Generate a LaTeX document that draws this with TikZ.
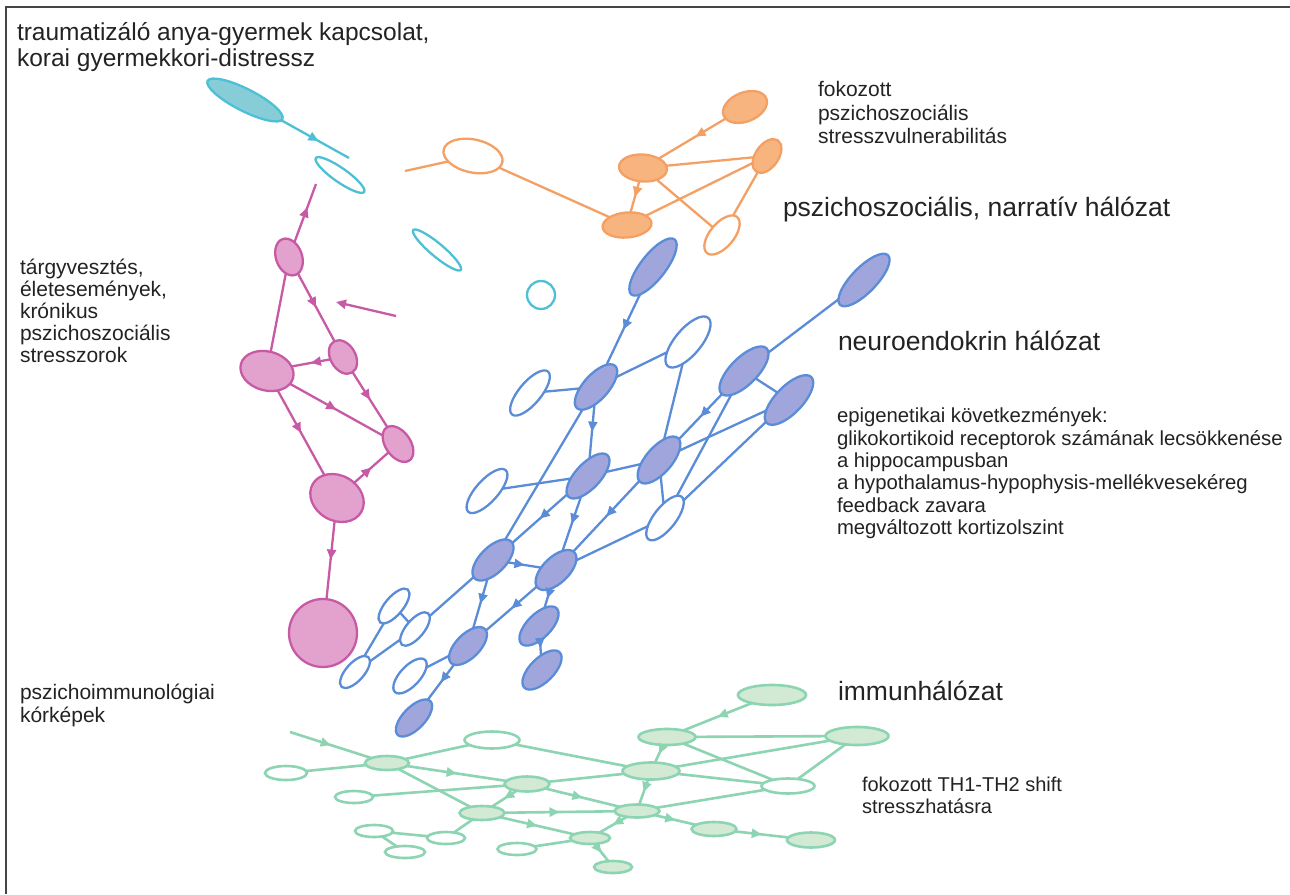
\documentclass[tikz,border=0pt]{standalone}
\usepackage{fontspec}
\setmainfont{Liberation Sans}
\usetikzlibrary{shapes.geometric,arrows.meta,decorations.markings}
\definecolor{cyL}{RGB}{78,192,214}
\definecolor{cyFi}{RGB}{135,205,216}
\definecolor{orL}{RGB}{244,160,100}
\definecolor{orFi}{RGB}{247,180,126}
\definecolor{pkL}{RGB}{200,90,165}
\definecolor{pkFi}{RGB}{226,162,205}
\definecolor{buL}{RGB}{90,140,215}
\definecolor{buFi}{RGB}{160,166,220}
\definecolor{grL}{RGB}{140,212,178}
\definecolor{grFi}{RGB}{210,234,212}
\definecolor{txtC}{RGB}{35,35,35}
\definecolor{frameC}{RGB}{70,70,70}
\begin{document}
\begin{tikzpicture}[x=1pt,y=-1pt,
 E/.style n args={3}{ellipse, inner sep=0pt, outer sep=0pt, minimum width=#1pt, minimum height=#2pt, rotate=#3},
 cyO/.style={draw=cyL, line width=2.3pt, fill=white},
 cyF/.style={draw=cyL, line width=2.3pt, fill=cyFi},
 cyLn/.style={draw=cyL, line width=2.3pt},
 orO/.style={draw=orL, line width=2.3pt, fill=white},
 orF/.style={draw=orL, line width=2.3pt, fill=orFi},
 orLn/.style={draw=orL, line width=2.3pt},
 pkF/.style={draw=pkL, line width=2.3pt, fill=pkFi},
 pkLn/.style={draw=pkL, line width=2.3pt},
 buO/.style={draw=buL, line width=2.3pt, fill=white},
 buF/.style={draw=buL, line width=2.3pt, fill=buFi},
 buLn/.style={draw=buL, line width=2.3pt},
 grO/.style={draw=grL, line width=2.6pt, fill=white},
 grF/.style={draw=grL, line width=2.6pt, fill=grFi},
 grLn/.style={draw=grL, line width=2.6pt},
 midarr/.style={postaction={decorate}, decoration={markings, mark=at position #1 with {\arrow{Triangle[length=10pt,width=9pt]}}}},
 midarr/.default=0.5,
 txt/.style={text=txtC, anchor=base west, inner sep=0pt, outer sep=0pt},
 bigT/.style={txt, font=\fontsize{26.5}{30}\selectfont},
 topT/.style={txt, font=\fontsize{24.5}{28}\selectfont},
 smlT/.style={txt, font=\fontsize{21}{24}\selectfont},
 epiT/.style={txt, font=\fontsize{20.3}{23}\selectfont},
]
\useasboundingbox (0,0) rectangle (1290,894);
\fill[white] (0,0) rectangle (1290,894);
\draw[frameC, line width=2pt] (6,894) -- (6,7) -- (1290,7);

% ---------- cyan ----------
\node[cyF, E={84}{22}{-27}] (c1) at (245,100) {};
\coordinate (c1e) at (349,158);
\node[cyO, E={59}{14}{-35}] (c2) at (340,175) {};
\node[cyO, E={62}{13}{-40}] (c3) at (437,250) {};
\node[cyO, circle, inner sep=0pt, minimum size=28pt] (c4) at (541,295) {};
\draw[cyLn, midarr=0.55] (c1) -- (c1e);

% ---------- orange ----------
\node[orO, E={60}{33}{-12}] (o1) at (473,156) {};
\coordinate (o1e) at (405,171);
\node[orF, E={46}{29}{22}] (o2) at (745,107) {};
\node[orF, E={48}{27}{-4}] (o3) at (643,168) {};
\node[orF, E={38}{23}{55}] (o4) at (767,156) {};
\node[orF, E={49}{25}{5}] (o5) at (627,225) {};
\node[orO, E={47}{24}{50}] (o6) at (722,235) {};
\draw[orLn] (o1e) -- (o1);
\draw[orLn] (o1) -- (o5);
\draw[orLn, midarr] (o3) -- (o5);
\draw[orLn, midarr=0.45] (o2) -- (o3);
\draw[orLn] (o3) -- (o4);
\draw[orLn] (o5) -- (o4);
\draw[orLn] (o3) -- (o6);
\draw[orLn] (o4) -- (o6);

% ---------- pink ----------
\node[pkF, E={38}{26}{-70}] (p1) at (289,257) {};
\coordinate (p1e) at (316,184);
\node[pkF, E={36}{25}{-60}] (p2) at (343,357) {};
\node[pkF, E={54}{39}{-15}] (p3) at (267,371) {};
\node[pkF, E={40}{25}{-55}] (p4) at (398,444) {};
\node[pkF, E={56}{45}{-30}] (p5) at (337,498) {};
\node[pkF, circle, inner sep=0pt, minimum size=68pt] (p6) at (323,633) {};
\coordinate (pa1) at (396,316);
\coordinate (pa2) at (336,302);
\draw[pkLn, midarr=0.6] (p1) -- (p1e);
\draw[pkLn, -{Triangle[length=10pt,width=9pt]}] (pa1) -- (pa2);
\draw[pkLn] (p1) -- (p3);
\draw[pkLn, midarr] (p1) -- (p2);
\draw[pkLn, midarr] (p2) -- (p3);
\draw[pkLn, midarr] (p2) -- (p4);
\draw[pkLn, midarr] (p3) -- (p4);
\draw[pkLn, midarr] (p3) -- (p5);
\draw[pkLn, midarr] (p5) -- (p4);
\draw[pkLn, midarr] (p5) -- (p6);

% ---------- blue ----------
\node[buF, E={70}{25}{52}] (b1) at (653,267) {};
\node[buF, E={69}{25}{46}] (b2) at (864,280) {};
\node[buO, E={63}{26}{50}] (b3) at (688,342) {};
\node[buF, E={57}{25}{48}] (b4) at (596,387) {};
\node[buO, E={56}{22}{50}] (b5) at (530,393) {};
\node[buF, E={64}{27}{45}] (b6) at (744,371) {};
\node[buF, E={64}{27}{46}] (b7) at (789,400) {};
\node[buF, E={57}{25}{47}] (b8) at (588,476) {};
\node[buF, E={58}{26}{49}] (b9) at (659,460) {};
\node[buO, E={56}{22}{48}] (b10) at (487,491) {};
\node[buO, E={54}{22}{52}] (b21) at (665,518) {};
\node[buF, E={52}{26}{45}] (b11) at (493,560) {};
\node[buF, E={51}{26}{44}] (b12) at (556,570) {};
\node[buF, E={50}{24}{45}] (b13) at (539,626) {};
\node[buF, E={50}{24}{45}] (b14) at (542,670) {};
\node[buF, E={48}{24}{45}] (b15) at (468,646) {};
\node[buF, E={47}{22}{46}] (b16) at (414,718) {};
\node[buO, E={44}{20}{47}] (b17) at (410,676) {};
\node[buO, E={43}{18}{50}] (b18) at (394,606) {};
\node[buO, E={41}{18}{50}] (b19) at (415,629) {};
\node[buO, E={40}{18}{48}] (b20) at (355,672) {};
\draw[buLn, midarr] (b1) -- (b4);
\draw[buLn] (b5) -- (b4);
\draw[buLn] (b4) -- (b3);
\draw[buLn, midarr] (b4) -- (b8);
\draw[buLn] (b4) -- (b11);
\draw[buLn] (b3) -- (b9);
\draw[buLn] (b6) -- (b2);
\draw[buLn] (b6) -- (b7);
\draw[buLn, midarr] (b6) -- (b9);
\draw[buLn] (b6) -- (b21);
\draw[buLn] (b7) -- (b9);
\draw[buLn] (b7) -- (b21);
\draw[buLn] (b9) -- (b21);
\draw[buLn] (b10) -- (b8);
\draw[buLn] (b8) -- (b9);
\draw[buLn, midarr] (b8) -- (b11);
\draw[buLn, midarr] (b8) -- (b12);
\draw[buLn, midarr] (b9) -- (b12);
\draw[buLn] (b21) -- (b12);
\draw[buLn, midarr] (b11) -- (b12);
\draw[buLn, midarr] (b11) -- (b15);
\draw[buLn] (b11) -- (b19);
\draw[buLn, midarr] (b12) -- (b13);
\draw[buLn, midarr] (b13) -- (b14);
\draw[buLn, midarr] (b12) -- (b15);
\draw[buLn] (b15) -- (b17);
\draw[buLn, midarr] (b15) -- (b16);
\draw[buLn] (b18) -- (b19);
\draw[buLn] (b18) -- (b20);
\draw[buLn] (b19) -- (b20);

% ---------- green ----------
\coordinate (g0) at (290,732);
\node[grF, E={44}{14}{0}] (g1) at (387,763) {};
\node[grO, E={55}{17}{0}] (g2) at (492,740) {};
\node[grO, E={42}{14}{0}] (g3) at (286,773) {};
\node[grF, E={45}{15}{0}] (g4) at (527,784) {};
\node[grO, E={38}{12}{0}] (g5) at (354,797) {};
\node[grF, E={45}{14}{0}] (g6) at (482,813) {};
\node[grO, E={38}{12}{0}] (g7) at (374,831) {};
\node[grO, E={38}{12}{0}] (g8) at (446,838) {};
\node[grO, E={40}{12}{0}] (g9) at (405,852) {};
\node[grF, E={40}{12}{0}] (g10) at (590,838) {};
\node[grO, E={39}{12}{0}] (g11) at (517,849) {};
\node[grF, E={38}{12}{0}] (g12) at (613,867) {};
\node[grF, E={68}{20}{0}] (g13) at (772,695) {};
\node[grF, E={57}{16}{0}] (g14) at (667,737) {};
\node[grF, E={63}{18}{0}] (g15) at (857,736) {};
\node[grF, E={57}{17}{0}] (g16) at (651,771) {};
\node[grO, E={53}{15}{0}] (g17) at (788,786) {};
\node[grF, E={45}{13}{0}] (g18) at (637,811) {};
\node[grF, E={45}{14}{0}] (g19) at (714,829) {};
\node[grF, E={48}{15}{0}] (g20) at (811,840) {};
\draw[grLn, midarr] (g0) -- (g1);
\draw[grLn] (g3) -- (g1);
\draw[grLn] (g1) -- (g2);
\draw[grLn, midarr] (g1) -- (g4);
\draw[grLn] (g1) -- (g6);
\draw[grLn] (g2) -- (g16);
\draw[grLn] (g5) -- (g4);
\draw[grLn, midarr] (g4) -- (g6);
\draw[grLn, midarr] (g4) -- (g18);
\draw[grLn] (g4) -- (g16);
\draw[grLn, midarr] (g6) -- (g18);
\draw[grLn, midarr] (g6) -- (g10);
\draw[grLn] (g6) -- (g8);
\draw[grLn] (g7) -- (g8);
\draw[grLn] (g7) -- (g9);
\draw[grLn] (g11) -- (g10);
\draw[grLn, midarr] (g10) -- (g12);
\draw[grLn, midarr] (g18) -- (g10);
\draw[grLn, midarr] (g16) -- (g18);
\draw[grLn, midarr] (g14) -- (g16);
\draw[grLn, midarr] (g13) -- (g14);
\draw[grLn] (g14) -- (g15);
\draw[grLn] (g14) -- (g17);
\draw[grLn] (g16) -- (g15);
\draw[grLn] (g16) -- (g17);
\draw[grLn] (g15) -- (g17);
\draw[grLn] (g18) -- (g17);
\draw[grLn, midarr] (g18) -- (g19);
\draw[grLn, midarr] (g19) -- (g20);

% ---------- texts ----------
\node[topT] (t1a) at (17,40) {traumatizáló anya-gyermek kapcsolat,};
\node[topT] (t1b) at (17,66) {korai gyermekkori-distressz};
\node[smlT] (t2a) at (818,96) {fokozott};
\node[smlT] (t2b) at (818,120) {pszichoszociális};
\node[smlT] (t2c) at (818,143) {stresszvulnerabilitás};
\node[bigT] (t3) at (783,216) {pszichoszociális, narratív hálózat};
\node[smlT] (t4a) at (20,274) {tárgyvesztés,};
\node[smlT] (t4b) at (20,296) {életesemények,};
\node[smlT] (t4c) at (20,318) {krónikus};
\node[smlT] (t4d) at (20,340) {pszichoszociális};
\node[smlT] (t4e) at (20,362) {stresszorok};
\node[bigT] (t5) at (838,350) {neuroendokrin hálózat};
\node[epiT] (t6a) at (837,422) {epigenetikai következmények:};
\node[epiT] (t6b) at (837,445) {glikokortikoid receptorok számának lecsökkenése};
\node[epiT] (t6c) at (837,467) {a hippocampusban};
\node[epiT] (t6d) at (837,489) {a hypothalamus-hypophysis-mellékvesekéreg};
\node[epiT] (t6e) at (837,512) {feedback zavara};
\node[epiT] (t6f) at (837,534) {megváltozott kortizolszint};
\node[bigT] (t7) at (838,700) {immunhálózat};
\node[smlT] (t8a) at (20,699) {pszichoimmunológiai};
\node[smlT] (t8b) at (20,722) {kórképek};
\node[smlT, font=\fontsize{20}{23}\selectfont] (t9a) at (862,791) {fokozott TH1-TH2 shift};
\node[smlT, font=\fontsize{20}{23}\selectfont] (t9b) at (862,813) {stresszhatásra};
\end{tikzpicture}
\end{document}
